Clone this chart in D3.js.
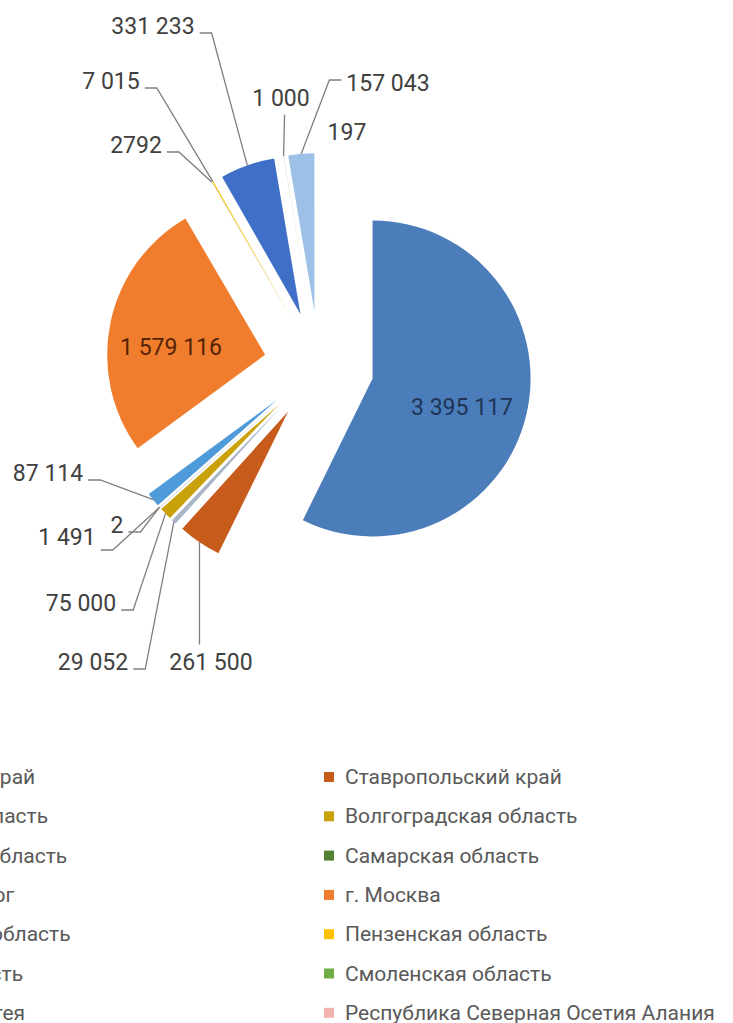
<!DOCTYPE html>
<html>
<head>
<meta charset="utf-8">
<script src="https://cdn.jsdelivr.net/npm/d3@7"></script>
<style>
  html, body { margin: 0; padding: 0; background: #ffffff; }
  svg { display: block; }
</style>
</head>
<body>
<svg id="chart" width="733" height="1023"></svg>
<script>
// ---- data ----
const categories = [
  "Краснодарский край", "Ставропольский край",
  "Воронежская область", "Волгоградская область",
  "Ленинградская область", "Самарская область",
  "г. Санкт-Петербург", "г. Москва",
  "Нижегородская область", "Пензенская область",
  "Калужская область", "Смоленская область",
  "Республика Адыгея", "Республика Северная Осетия Алания"
];
const values = [3395117, 261500, 29052, 75000, 1491, 2, 87114, 1579116, 2792, 7015, 331233, 1000, 157043, 197];
const valueLabels = ["3 395 117", "261 500", "29 052", "75 000", "1 491", "2", "87 114", "1 579 116", "2792", "7 015", "331 233", "1 000", "157 043", "197"];
const colors = ["#4b7dbb", "#c65b1c", "#a9b4c6", "#c9a10a", "#8c8c8c", "#548235", "#4f9ad8", "#f07d2d", "#bfbfbf", "#ffc000", "#3f6fc6", "#70ad47", "#9dc0e6", "#f2b3b0"];

// ---- layout (label placement, as set by hand in the source chart) ----
const labelLayout = [
  {x: 462, y: 407, type: "inside", fill: "#1e3557"},
  {x: 211, y: 662, type: "below"},
  {x: 93,  y: 662, type: "right"},
  {x: 81,  y: 603, type: "right"},
  {x: 67,  y: 537, type: "right", dy: 13},
  {x: 117, y: 525, type: "right"},
  {x: 48,  y: 473, type: "right"},
  {x: 171, y: 347, type: "inside", fill: "#552407"},
  {x: 136, y: 145, type: "right"},
  {x: 111, y: 81,  type: "right"},
  {x: 153, y: 26,  type: "right"},
  {x: 281, y: 98,  type: "above"},
  {x: 388, y: 83,  type: "left", dy: -3},
  {x: 347, y: 132, type: "none"}
];

const W = 733, H = 1023;
const cx = 319, cy = 366, R = 158, explode = 55;
const FONT = "Roboto, 'Noto Sans', sans-serif";

const svg = d3.select("#chart");
svg.append("rect").attr("width", W).attr("height", H).attr("fill", "#fff");

const pie = d3.pie().sort(null).value(d => d)(values);
const arc = d3.arc().innerRadius(0).outerRadius(R);
const unit = a => [Math.sin(a), -Math.cos(a)];

const g = svg.append("g").attr("transform", `translate(${cx},${cy})`);

g.selectAll("path.slice").data(pie).join("path")
  .attr("class", "slice")
  .attr("d", arc)
  .attr("fill", (d, i) => colors[i])
  .attr("transform", d => {
    const m = (d.startAngle + d.endAngle) / 2;
    const [ux, uy] = unit(m);
    return `translate(${ux * explode},${uy * explode})`;
  });

// labels
const lblG = svg.append("g");
pie.forEach((d, i) => {
  const L = labelLayout[i];
  const t = lblG.append("text")
    .attr("x", L.x).attr("y", L.y)
    .attr("text-anchor", "middle")
    .attr("dominant-baseline", "central")
    .attr("font-family", FONT)
    .attr("font-size", 23)
    .attr("fill", L.fill || "#404040")
    .text(valueLabels[i]);
  if (L.type === "inside" || L.type === "none") return;
  const bb = t.node().getBBox();
  const m = (d.startAngle + d.endAngle) / 2;
  const [ux, uy] = unit(m);
  const ax = cx + ux * (explode + R), ay = cy + uy * (explode + R);
  let pts;
  const dy = L.dy != null ? L.dy : 7;
  if (L.type === "right") {
    const sx = bb.x + bb.width + 5, sy = L.y + dy;
    pts = [[sx, sy], [sx + 12, sy], [ax, ay]];
  } else if (L.type === "left") {
    const sx = bb.x - 5, sy = L.y + dy;
    pts = [[sx, sy], [sx - 12, sy], [ax, ay]];
  } else if (L.type === "above") {
    pts = [[ax + 1, bb.y + bb.height + 3], [ax, ay]];
  } else if (L.type === "below") {
    pts = [[ax, bb.y - 4], [ax, ay]];
  }
  lblG.insert("path", "text")
    .attr("d", d3.line()(pts))
    .attr("fill", "none")
    .attr("stroke", "#7f7f7f")
    .attr("stroke-width", 1.3);
});

// legend (the source picture is cropped on the left, so the left column is partly cut off)
const legG = svg.append("g");
const rowY0 = 777, rowStep = 39.3, colX = [-170, 345];
categories.forEach((c, i) => {
  const col = i % 2, row = Math.floor(i / 2);
  const y = rowY0 + row * rowStep;
  const x = colX[col];
  legG.append("rect")
    .attr("x", x - 21).attr("y", y - 5)
    .attr("width", 10).attr("height", 10)
    .attr("fill", colors[i]);
  legG.append("text")
    .attr("x", x).attr("y", y)
    .attr("dominant-baseline", "central")
    .attr("font-family", FONT)
    .attr("font-size", 21)
    .attr("fill", "#595959")
    .text(c);
});
</script>
</body>
</html>
